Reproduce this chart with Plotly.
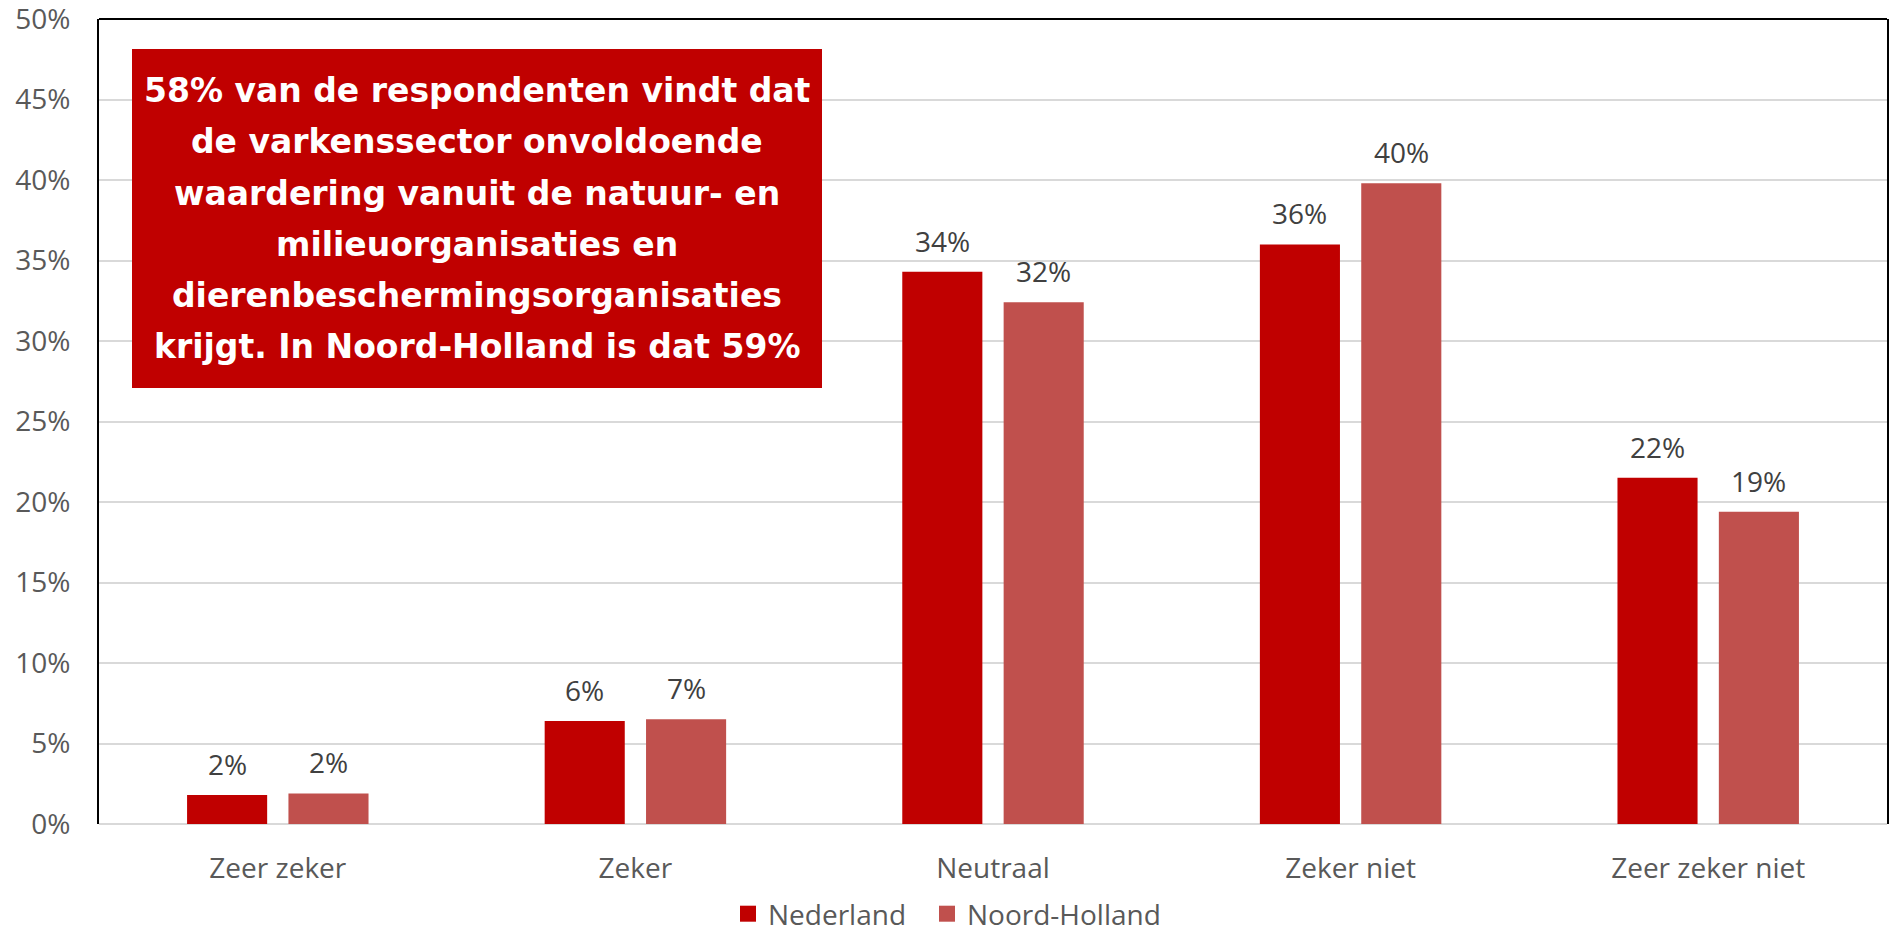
import plotly.graph_objects as go

categories = ["Zeer zeker", "Zeker", "Neutraal", "Zeker niet", "Zeer zeker niet"]
nederland = [0.018, 0.064, 0.343, 0.360, 0.215]
noord_holland = [0.019, 0.0651, 0.324, 0.398, 0.194]
series_names = ["Nederland", "Noord-Holland"]
colors = ["#C00000", "#C0504D"]
box_lines = [
    "58% van de respondenten vindt dat",
    "de varkenssector onvoldoende",
    "waardering vanuit de natuur- en",
    "milieuorganisaties en",
    "dierenbeschermingsorganisaties",
    "krijgt. In Noord-Holland is dat 59%",
]

# the page body has an 8px margin, so the figure is sized/offset to land on the window
OFF = 8
W, H = 1900 - OFF, 928 - OFF
ML, MT = 99 - OFF, 19 - OFF
MR, MB = 13, 104
PW = W - ML - MR
PH = H - MT - MB
BARGAP = 0.433
BARGROUPGAP = 0.21

LABEL_FONT = "Open Sans"
FS = 28

def px2x(px):
    return (px - OFF - ML) / PW
def py2y(py):
    return (MT + PH - (py - OFF)) / PH

fig = go.Figure()
legend_ids = ["legend", "legend2"]
for name, vals, col, lg in zip(series_names, [nederland, noord_holland], colors, legend_ids):
    fig.add_trace(go.Bar(x=categories, y=vals, name=name, marker_color=col,
                         marker_line_width=0, showlegend=False))
    fig.add_trace(go.Scatter(x=[None], y=[None], mode="markers", name=name, legend=lg,
                             marker=dict(symbol="square", size=16, color=col)))

# data labels
slot = PW / len(categories) * (1 - BARGAP) / 2
anns = []
for i, vals in enumerate([nederland, noord_holland]):
    shift = (i - 0.5) * slot
    for c, v in zip(categories, vals):
        anns.append(dict(x=c, y=v, text=f"{round(v*100)}%", showarrow=False,
                         xanchor="center", yanchor="bottom", xshift=shift, yshift=10,
                         font=dict(family=LABEL_FONT, size=FS, color="#404040")))

# text box
bx0, bx1, by0, by1 = 132, 822, 49, 388
fig.add_shape(type="rect", xref="paper", yref="paper",
              x0=px2x(bx0), x1=px2x(bx1), y0=py2y(by1), y1=py2y(by0),
              fillcolor="#C00000", line_width=0, layer="above")
for k, line in enumerate(box_lines):
    anns.append(dict(x=px2x((bx0 + bx1) / 2), y=py2y(90.5 + 51.3 * k), xref="paper", yref="paper",
                     text=f"<b>{line}</b>", showarrow=False, xanchor="center", yanchor="middle",
                     font=dict(family="DejaVu Sans", size=33, color="white")))

# top border
fig.add_shape(type="line", xref="paper", yref="paper", x0=0, x1=1, y0=1, y1=1,
              line=dict(color="black", width=2))

leg_common = dict(orientation="h", xanchor="left", yanchor="middle", y=py2y(914),
                  font=dict(family=LABEL_FONT, size=FS, color="#595959"),
                  itemclick=False, bgcolor="rgba(0,0,0,0)")

fig.update_layout(
    width=W, height=H,
    margin=dict(l=ML, r=MR, t=MT, b=MB, autoexpand=False),
    paper_bgcolor="white", plot_bgcolor="white",
    barmode="group", bargap=BARGAP, bargroupgap=BARGROUPGAP,
    annotations=anns,
    legend=dict(x=px2x(728), **leg_common),
    legend2=dict(x=px2x(927), **leg_common),
    xaxis=dict(showline=False, showgrid=False, ticks="", ticklabelstandoff=25, automargin=False,
               tickfont=dict(family=LABEL_FONT, size=FS, color="#595959")),
    yaxis=dict(range=[0, 0.5], tickvals=[i * 0.05 for i in range(11)], tickformat=".0%",
               showgrid=True, automargin=False, ticklabeloverflow="allow",
               gridcolor="#D9D9D9", gridwidth=2, zeroline=True, zerolinecolor="#D9D9D9",
               zerolinewidth=2, showline=True, mirror=True, linecolor="black", linewidth=2,
               ticks="", ticklabelstandoff=21,
               tickfont=dict(family=LABEL_FONT, size=FS, color="#595959")),
)

fig.write_html("out.html", config={"displayModeBar": False})
